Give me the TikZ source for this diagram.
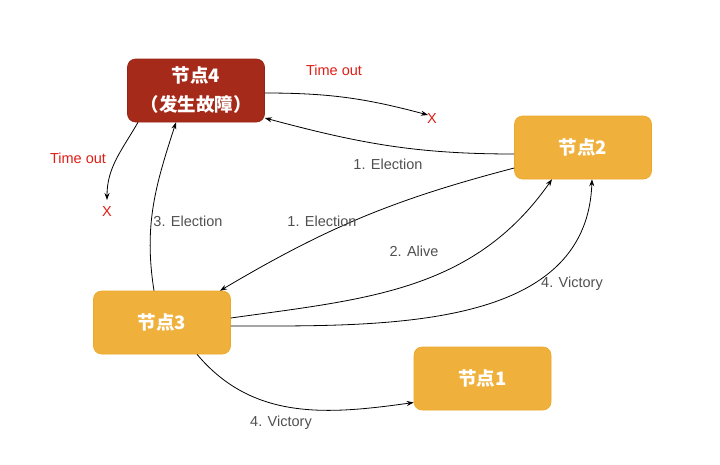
\documentclass[tikz,border=0pt]{standalone}
\usepackage{fontspec}
\setmainfont{Liberation Sans}
\newfontfamily\cjk{Noto Sans CJK SC}
\usetikzlibrary{arrows.meta,calc}
\definecolor{orangebox}{RGB}{240,176,60}
\definecolor{orangeedge}{RGB}{236,168,40}
\definecolor{redbox}{RGB}{166,42,26}
\definecolor{rededge}{RGB}{150,36,22}
\definecolor{labgray}{RGB}{80,80,80}
\definecolor{timered}{RGB}{222,30,22}
\tikzset{
  box/.style={rounded corners=8pt, minimum width=137pt, minimum height=63pt, inner sep=0pt,
    text=white, font=\cjk\bfseries\fontsize{18.5}{29}\selectfont, align=center, line width=0.6pt},
  obox/.style={box, fill=orangebox, draw=orangeedge},
  rbox/.style={box, fill=redbox, draw=rededge},
  lab/.style={text=labgray, font=\fontsize{14.5}{17}\selectfont, inner sep=0pt},
  rlab/.style={text=timered, font=\fontsize{14.5}{17}\selectfont, inner sep=0pt},
  conn/.style={draw=black, line width=0.8pt, -{Stealth[length=7pt,width=5pt]}}
}
\begin{document}
\begin{tikzpicture}[x=1pt,y=-1pt]
\useasboundingbox (0,0) rectangle (720,464);
% nodes
\node[rbox] (n4) at (196,90.5) {节点4\\（发生故障）};
\node[obox] (n2) at (583,147.5) {节点2};
\node[obox] (n3) at (162,322.5) {节点3};
\node[obox] (n1) at (482.5,378.5) {节点1};
% free ends
\coordinate (t1) at (428,115);
\coordinate (t2) at (107,200);
% connectors
\draw[conn] ([yshift=-2.5pt]n4.east) to[out=0,in=165] (t1);
\draw[conn] ([xshift=-58pt]n4.south) to[out=-120,in=90] (t2);
\draw[conn] ([yshift=-6.5pt]n2.west) to[out=180,in=-15] ([yshift=-27.5pt]n4.east);
\draw[conn] ([yshift=-20.5pt]n2.west) to[bend right=8] ([xshift=58pt]n3.north);
\draw[conn] ([xshift=-8pt]n3.north) to[out=99,in=-108] ([xshift=-20pt]n4.south);
\draw[conn] ([yshift=4.5pt]n3.east) to[out=8,in=-125] ([xshift=-31pt]n2.south);
\draw[conn] ([yshift=-3.5pt]n3.east) to[out=0,in=-92] ([xshift=9pt]n2.south);
\draw[conn] ([xshift=35pt]n3.south) to[out=-50,in=188] ([yshift=-24pt]n1.west);
% labels
\node[rlab] (lto1) at (334,70) {Time out};
\node[rlab] (lto2) at (78,158) {Time out};
\node[rlab] (x1) at (432,119) {X};
\node[rlab] (x2) at (107,212) {X};
\node[lab] (le1) at (388,164) {1. Election};
\node[lab] (le2) at (322,221) {1. Election};
\node[lab] (le3) at (188,221) {3. Election};
\node[lab] (la) at (414,251) {2. Alive};
\node[lab] (lv1) at (572,284) {4. Victory};
\node[lab] (lv2) at (281,423) {4. Victory};
\end{tikzpicture}
\end{document}
